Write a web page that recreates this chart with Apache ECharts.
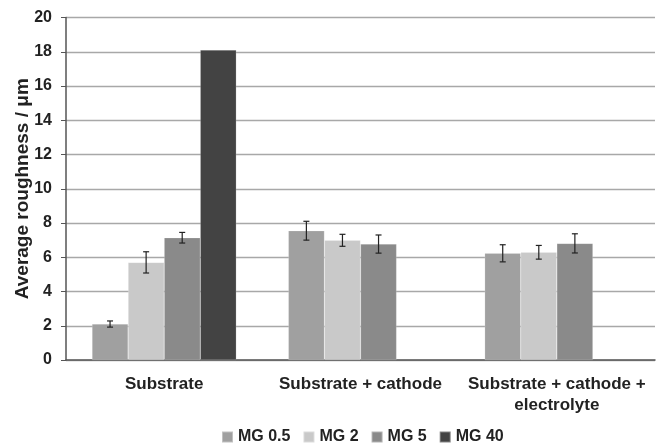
<!DOCTYPE html>
<html><head><meta charset="utf-8">
<script src="https://cdn.jsdelivr.net/npm/echarts@6/dist/echarts.min.js"></script>
<style>html,body{margin:0;padding:0;background:#fff}#c{width:657px;height:445px}</style>
</head><body><div id="c"></div>
<script>
const categories = ['Substrate', 'Substrate + cathode', 'Substrate + cathode +\nelectrolyte'];
const seriesNames = ['MG 0.5', 'MG 2', 'MG 5', 'MG 40'];
const mg05 = [2.1, 7.55, 6.23];
const mg2 = [5.7, 6.99, 6.29];
const mg5 = [7.14, 6.77, 6.81];
const mg40 = [18.1, null, null];
const err05 = [0.18, 0.55, 0.5];
const err2 = [0.62, 0.35, 0.4];
const err5 = [0.31, 0.53, 0.56];
const err40 = [0, null, null];
const yTicks = [0, 2, 4, 6, 8, 10, 12, 14, 16, 18, 20];

const values = [mg05, mg2, mg5, mg40];
const errs = [err05, err2, err5, err40];
const colors = ['#a0a0a0', '#c9c9c9', '#8a8a8a', '#434343'];
const gapFrac = 0.265;
const font = 'Liberation Sans, Arial, sans-serif';

const chart = echarts.init(document.getElementById('c'));
const errData = [];
values.forEach((vals, si) => {
  vals.forEach((v, ci) => {
    if (v != null && errs[si][ci]) errData.push([ci, v, errs[si][ci], si]);
  });
});

const series = seriesNames.map((n, i) => ({
  name: n, type: 'bar', data: values[i],
  barCategoryGap: (gapFrac * 100) + '%', barGap: '0%',
  itemStyle: { color: colors[i], borderColor: 'rgba(255,255,255,0.35)', borderWidth: 0.5 },
  emphasis: { disabled: true }
}));
series.push({
  type: 'custom', name: 'err', silent: true, z: 10,
  data: errData,
  renderItem: function (params, api) {
    const ci = api.value(0), v = api.value(1), e = api.value(2), si = api.value(3);
    const band = api.size([1, 0])[0];
    const barW = band * (1 - gapFrac) / 4;
    const c = api.coord([ci, v]);
    const x = c[0] + (si - 1.5) * barW;
    const yt = api.coord([ci, v + e])[1];
    const yb = api.coord([ci, v - e])[1];
    const cap = 3;
    const st = { stroke: '#222', lineWidth: 1.2 };
    return { type: 'group', children: [
      { type: 'line', shape: { x1: x, y1: yt, x2: x, y2: yb }, style: st },
      { type: 'line', shape: { x1: x - cap, y1: yt, x2: x + cap, y2: yt }, style: st },
      { type: 'line', shape: { x1: x - cap, y1: yb, x2: x + cap, y2: yb }, style: st }
    ]};
  }
});

chart.setOption({
  animation: false,
  backgroundColor: '#fff',
  grid: { left: 66, right: 2, top: 17.5, bottom: 85, containLabel: false, outerBoundsMode: 'none' },
  legend: {
    data: seriesNames, top: 424, left: 216,
    itemWidth: 11, itemHeight: 11, itemGap: 12, icon: 'rect',
    textStyle: { fontFamily: font, fontWeight: 'bold', fontSize: 16, color: '#222' },
    selectedMode: false
  },
  xAxis: {
    type: 'category', data: categories,
    axisLine: { lineStyle: { color: '#555', width: 1.5 } },
    axisTick: { show: false },
    axisLabel: { fontFamily: font, fontWeight: 'bold', fontSize: 17, color: '#222', margin: 14, lineHeight: 21, interval: 0 }
  },
  yAxis: {
    type: 'value', min: 0, max: 20, interval: 2,
    name: 'Average roughness / μm', nameLocation: 'middle', nameGap: 34, nameMoveOverlap: false,
    nameTextStyle: { fontFamily: font, fontWeight: 'bold', fontSize: 19, color: '#222' },
    axisLine: { show: true, lineStyle: { color: '#555', width: 1.5 } },
    axisTick: { show: true, length: 5, lineStyle: { color: '#555' } },
    axisLabel: { fontFamily: font, fontWeight: 'bold', fontSize: 16, color: '#222', margin: 14,
      formatter: v => yTicks.includes(v) ? String(v) : '' },
    splitLine: { lineStyle: { color: '#a8a8a8', width: 1.3 } }
  },
  series: series
});
</script></body></html>
